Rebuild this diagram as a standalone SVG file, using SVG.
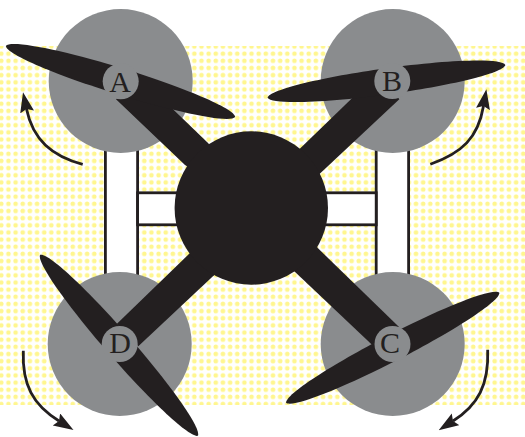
<svg xmlns="http://www.w3.org/2000/svg" width="525" height="437" viewBox="0 0 525 437">
<style>
.hub{fill:#8a8c8e}
.ink{fill:#231f20}
.frame{fill:#fff;stroke:#231f20;stroke-width:2.8}
.lab{font-family:"Liberation Serif","DejaVu Serif",serif;font-size:30px;fill:#231f20;text-anchor:middle}
.rot{fill:none;stroke:#231f20;stroke-width:2.8}
</style>
<defs>
<pattern id="dots" x="-2.28" y="42.9" width="7.15" height="7.15" patternUnits="userSpaceOnUse"><circle cx="3.575" cy="3.575" r="2.3" fill="#fff68f"/></pattern>
<marker id="ah" markerWidth="20" markerHeight="16" refX="3" refY="7" orient="auto" markerUnits="userSpaceOnUse"><path d="M0 0L20 7L0 14L3 7Z" fill="#231f20"/></marker>
<path id="blade" d="M-120 0C-117 -8 -60 -13 0 -13C60 -13 117 -8 120 0C117 8 60 13 0 13C-60 13 -117 8 -120 0Z"/>
</defs>
<rect width="525" height="437" fill="#fff"/>
<rect x="0" y="46" width="525" height="359" fill="url(#dots)"/>
<g id="frame">
<rect class="frame" x="105.4" y="140" width="32.2" height="145"/>
<rect class="frame" x="376.2" y="140" width="32.4" height="145"/>
<rect class="frame" x="137.6" y="192.8" width="238.6" height="32"/>
</g>
<g id="hub-discs">
<circle class="hub" cx="120.7" cy="81" r="72"/>
<circle class="hub" cx="392.7" cy="81" r="72"/>
<circle class="hub" cx="119.7" cy="344" r="72"/>
<circle class="hub" cx="392.7" cy="344" r="72"/>
</g>
<g id="body">
<path class="ink" d="M116 99.3L185 165L251 208L208.3 143.3L171.7 108L137 74Z"/>
<path class="ink" d="M300.3 148.3L352 98.3L380 72L399.3 99.3L320.3 173.3L251 208Z"/>
<path class="ink" d="M317 247.3L399.3 327.3L372 344.7L294.3 271.3L251 208Z"/>
<path class="ink" d="M190 253L116.7 324L138.3 346.3L214 275.3L251 208Z"/>
<circle class="ink" cx="251.3" cy="208" r="76.7"/>
</g>
<g id="node-A">
<use href="#blade" class="ink" transform="translate(120.5 81.5) rotate(17.2)"/>
<circle class="hub" cx="120.7" cy="81.3" r="18"/>
<text class="lab" x="120" y="91.5">A</text>
</g>
<g id="node-B">
<use href="#blade" class="ink" transform="translate(386.5 81.3) rotate(-7.85)"/>
<circle class="hub" cx="392.3" cy="81" r="18"/>
<text class="lab" x="392" y="90.7">B</text>
</g>
<g id="node-C">
<use href="#blade" class="ink" transform="translate(392.7 347.8) rotate(-27.3)"/>
<circle class="hub" cx="392.5" cy="344" r="18"/>
<text class="lab" x="390" y="353">C</text>
</g>
<g id="node-D">
<use href="#blade" class="ink" transform="translate(119 345.3) rotate(48.9)"/>
<circle class="hub" cx="119.7" cy="344" r="18"/>
<text class="lab" x="120" y="353">D</text>
</g>
<g id="connectors">
<path class="rot" marker-end="url(#ah)" d="M82.7 164.3C52 156 33 140 26.5 109"/>
<path class="rot" marker-end="url(#ah)" d="M430.3 164.3C462 153 478 138 483.5 106"/>
<path class="rot" marker-end="url(#ah)" d="M23.3 350.7C22 385 33 405 59 421"/>
<path class="rot" marker-end="url(#ah)" d="M487.7 349.7C489 385 478 405 453 421"/>
</g>
</svg>
